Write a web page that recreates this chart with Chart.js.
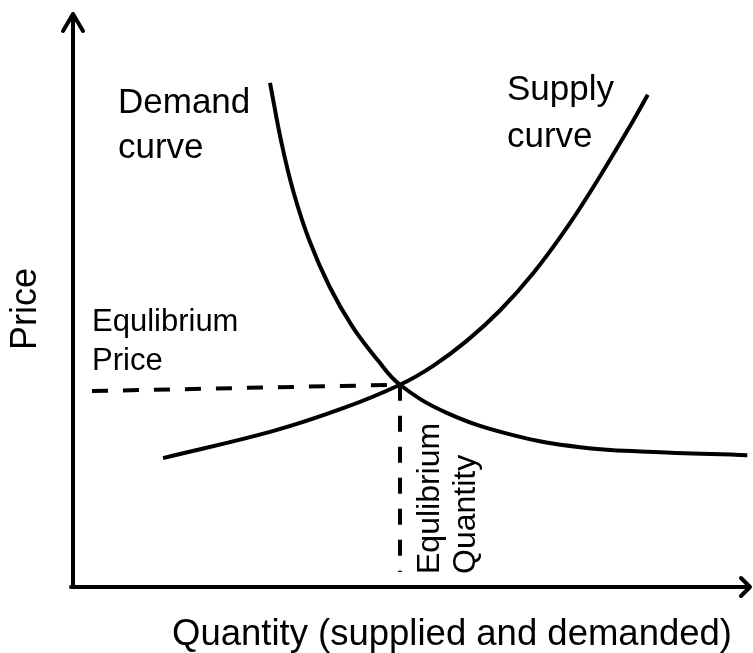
<!DOCTYPE html>
<html>
<head>
<meta charset="utf-8">
<script src="https://cdn.jsdelivr.net/npm/chart.js@4/dist/chart.umd.min.js"></script>
<style>
  body { margin: 0; background: #fff; }
</style>
</head>
<body>
<canvas id="canvas-1" width="753" height="653"></canvas>
<script>
// values (quantity / price on 0..100 scales)
const demandQty = [29.1, 30.8, 32.6, 34.9, 37.9, 41.3, 45.0, 48.3, 55.2, 65.0, 74.9, 84.8, 99.6]
const demandPrice = [88.0, 77.5, 68.8, 60.5, 52.4, 45.4, 39.6, 35.3, 30.4, 26.5, 24.4, 23.6, 23.0]
const supplyQty = [13.3, 29.5, 39.9, 48.3, 53.2, 58.2, 63.1, 68.0, 73.0, 77.8, 82.7, 84.9]
const supplyPrice = [22.5, 27.2, 31.2, 35.3, 38.6, 43.0, 48.3, 54.8, 62.8, 71.6, 81.3, 85.9]
const eqQty = 48.3
const eqPrice = 35.3
const priceGuideQty = [2.8, eqQty]
const priceGuidePrice = [34.2, eqPrice]
const qtyGuidePrice = [eqPrice, 2.6]

const font = '"Liberation Sans", Arial, sans-serif'
const toPoints = (xs, ys) => xs.map((x, i) => ({ x: x, y: ys[i] }))

const curve = {
  borderColor: '#000',
  borderWidth: 4,
  pointRadius: 0,
  showLine: true,
  tension: 0.4,
  clip: false
}
const guide = {
  borderColor: '#000',
  borderWidth: 4,
  borderDash: [16, 15],
  pointRadius: 0,
  showLine: true,
  clip: false
}

// axes with arrow heads + the hand-placed labels
const diagramPlugin = {
  id: 'diagram',
  beforeDatasetsDraw(chart) {
    const ctx = chart.ctx
    const xs = chart.scales.x
    const ys = chart.scales.y
    const x0 = xs.getPixelForValue(0)
    const x1 = xs.getPixelForValue(100)
    const y0 = ys.getPixelForValue(0)
    const y1 = ys.getPixelForValue(100)
    ctx.save()
    ctx.strokeStyle = '#000'
    ctx.lineWidth = 4
    ctx.lineCap = 'round'
    ctx.lineJoin = 'round'
    ctx.beginPath()
    ctx.moveTo(x0, y0)
    ctx.lineTo(x0, y1)
    ctx.moveTo(x0 - 10, y1 + 17)
    ctx.lineTo(x0, y1)
    ctx.lineTo(x0 + 10, y1 + 17)
    ctx.moveTo(x0 - 2, y0)
    ctx.lineTo(x1, y0)
    ctx.moveTo(x1 - 9, y0 - 9)
    ctx.lineTo(x1, y0)
    ctx.lineTo(x1 - 9, y0 + 9)
    ctx.stroke()
    ctx.restore()
  },
  afterDatasetsDraw(chart) {
    const ctx = chart.ctx
    ctx.save()
    ctx.fillStyle = '#000'
    ctx.textBaseline = 'alphabetic'
    ctx.textAlign = 'left'

    ctx.font = '35px ' + font
    ctx.fillText('Demand', 118, 113)
    ctx.fillText('curve', 118, 158)
    ctx.fillText('Supply', 507, 100)
    ctx.fillText('curve', 507, 147)

    ctx.font = '31px ' + font
    ctx.fillText('Equlibrium', 92, 331)
    ctx.fillText('Price', 92, 370)

    ctx.font = '32px ' + font
    ctx.save()
    ctx.translate(439, 574)
    ctx.rotate(-Math.PI / 2)
    ctx.fillText('Equlibrium', 0, 0)
    ctx.fillText('Quantity', 0, 36)
    ctx.restore()

    ctx.textAlign = 'center'
    ctx.font = '36px ' + font
    ctx.save()
    ctx.translate(36, 309)
    ctx.rotate(-Math.PI / 2)
    ctx.fillText('Price', 0, 0)
    ctx.restore()

    ctx.font = '36.5px ' + font
    ctx.fillText('Quantity (supplied and demanded)', 452, 645)
    ctx.restore()
  }
}

// eslint-disable-next-line no-unused-vars
const marketChart = new Chart(document.getElementById('canvas-1'), {
  type: 'scatter',
  data: {
    datasets: [
      Object.assign({ label: 'Demand curve', data: toPoints(demandQty, demandPrice) }, curve),
      Object.assign({ label: 'Supply curve', data: toPoints(supplyQty, supplyPrice) }, curve),
      Object.assign({ label: 'Equlibrium Price', data: toPoints(priceGuideQty, priceGuidePrice) }, guide),
      Object.assign({ label: 'Equlibrium Quantity', data: toPoints([eqQty, eqQty], qtyGuidePrice) }, guide)
    ]
  },
  options: {
    responsive: false,
    animation: false,
    layout: { padding: { left: 73, right: 3, top: 14, bottom: 66 } },
    plugins: {
      legend: { display: false },
      title: { display: false },
      tooltip: { enabled: false }
    },
    scales: {
      x: { type: 'linear', min: 0, max: 100, display: false },
      y: { type: 'linear', min: 0, max: 100, display: false }
    }
  },
  plugins: [diagramPlugin]
})
</script>
</body>
</html>
